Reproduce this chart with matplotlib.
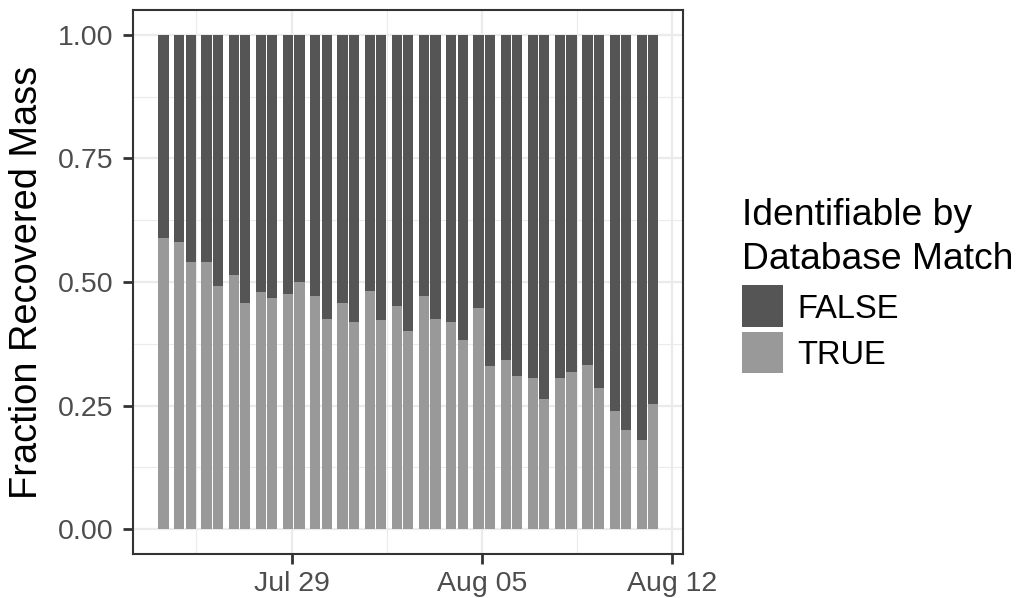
import matplotlib
matplotlib.use("Agg")
import matplotlib.pyplot as plt
import matplotlib.dates as mdates
from matplotlib.patches import Rectangle
import pandas as pd

# Sampling times (two collections per day, 07:00 and 21:00)
sample_times = [
    "2019-07-24 07:00", "2019-07-24 21:00", "2019-07-25 07:00", "2019-07-25 21:00",
    "2019-07-26 07:00", "2019-07-26 21:00", "2019-07-27 07:00", "2019-07-27 21:00",
    "2019-07-28 07:00", "2019-07-28 21:00", "2019-07-29 07:00", "2019-07-29 21:00",
    "2019-07-30 07:00", "2019-07-30 21:00", "2019-07-31 07:00", "2019-07-31 21:00",
    "2019-08-01 07:00", "2019-08-01 21:00", "2019-08-02 07:00", "2019-08-02 21:00",
    "2019-08-03 07:00", "2019-08-03 21:00", "2019-08-04 07:00", "2019-08-04 21:00",
    "2019-08-05 07:00", "2019-08-05 21:00", "2019-08-06 07:00", "2019-08-06 21:00",
    "2019-08-07 07:00", "2019-08-07 21:00", "2019-08-08 07:00", "2019-08-08 21:00",
    "2019-08-09 07:00", "2019-08-09 21:00", "2019-08-10 07:00", "2019-08-10 21:00",
    "2019-08-11 07:00",
]

# Fraction of recovered mass identifiable by database match (TRUE)
true_frac = [
    0.588, 0.580, 0.540, 0.541, 0.491, 0.514, 0.457, 0.480, 0.467, 0.476,
    0.499, 0.472, 0.426, 0.458, 0.419, 0.482, 0.424, 0.452, 0.400, 0.472,
    0.426, 0.419, 0.383, 0.448, 0.331, 0.342, 0.310, 0.305, 0.264, 0.306,
    0.319, 0.333, 0.285, 0.239, 0.201, 0.181, 0.254,
]
# Remaining fraction (not identifiable)
false_frac = [1.0 - v for v in true_frac]

legend_levels = ["FALSE", "TRUE"]
fill_colors = {"FALSE": "#555555", "TRUE": "#999999"}

y_ticks = [0.0, 0.25, 0.5, 0.75, 1.0]
y_tick_labels = ["0.00", "0.25", "0.50", "0.75", "1.00"]
x_tick_dates = ["2019-07-29", "2019-08-05", "2019-08-12"]
x_tick_labels = ["Jul 29", "Aug 05", "Aug 12"]

plt.rcParams["font.family"] = ["Liberation Sans", "DejaVu Sans"]

W, H = 1016, 598
fig = plt.figure(figsize=(W / 100, H / 100), dpi=100)
fig.patch.set_facecolor("white")


def fx(px):
    return px / W


def fy(py):
    return 1 - py / H


left, right, top, bottom = 133.3, 683.3, 10.0, 554.0
ax = fig.add_axes([fx(left), fy(bottom), fx(right - left), (bottom - top) / H])

times = mdates.date2num(pd.to_datetime(sample_times).to_pydatetime())
bar_w = 9 / 24  # 0.9 of the 10-hour minimum spacing

ax.bar(times, true_frac, width=bar_w, color=fill_colors["TRUE"], linewidth=0, zorder=2)
ax.bar(times, false_frac, width=bar_w, bottom=true_frac,
       color=fill_colors["FALSE"], linewidth=0, zorder=2)

# Axis limits with 5% expansion
x0 = times.min() - bar_w / 2
x1 = times.max() + bar_w / 2
pad = 0.05 * (x1 - x0)
ax.set_xlim(x0 - pad, x1 + pad)
ax.set_ylim(-0.05, 1.05)

xt = mdates.date2num(pd.to_datetime(x_tick_dates).to_pydatetime())
ax.set_xticks(xt)
ax.set_xticklabels(x_tick_labels)
ax.set_xticks([(xt[0] - 7 + xt[0]) / 2, (xt[0] + xt[1]) / 2, (xt[1] + xt[2]) / 2], minor=True)
ax.set_yticks(y_ticks)
ax.set_yticklabels(y_tick_labels)
ax.set_yticks([0.125, 0.375, 0.625, 0.875], minor=True)

ax.grid(True, which="major", color="#EBEBEB", linewidth=1.6, zorder=0)
ax.grid(True, which="minor", color="#EBEBEB", linewidth=0.8, zorder=0)
ax.set_axisbelow(True)

ax.tick_params(which="major", length=7, width=2.0, color="#333333",
               labelsize=20.5, labelcolor="#4D4D4D")
ax.tick_params(axis="x", which="major", pad=5.5)
ax.tick_params(axis="y", which="major", pad=7)
ax.tick_params(which="minor", length=0)
for sp in ax.spines.values():
    sp.set_color("#333333")
    sp.set_linewidth(1.5)

fig.text(fx(27), fy((top + bottom) / 2), "Fraction Recovered Mass", rotation=90,
         ha="center", va="center", fontsize=27.4, color="black")

# Legend
fig.text(fx(741.5), fy(225), "Identifiable by", fontsize=26.8, ha="left", va="baseline")
fig.text(fx(741.5), fy(269), "Database Match", fontsize=26.8, ha="left", va="baseline")
key_tops = [285.0, 331.7]
label_base = [317.7, 364.0]
for lvl, kt, lb in zip(legend_levels, key_tops, label_base):
    fig.patches.append(Rectangle((fx(741.7), fy(kt + 41.6)), fx(41.6), 41.6 / H,
                                 transform=fig.transFigure, facecolor=fill_colors[lvl],
                                 edgecolor="none"))
    fig.text(fx(797.5), fy(lb), lvl, fontsize=23.5, ha="left", va="baseline")

fig.savefig("out.png", dpi=100, facecolor="white")
